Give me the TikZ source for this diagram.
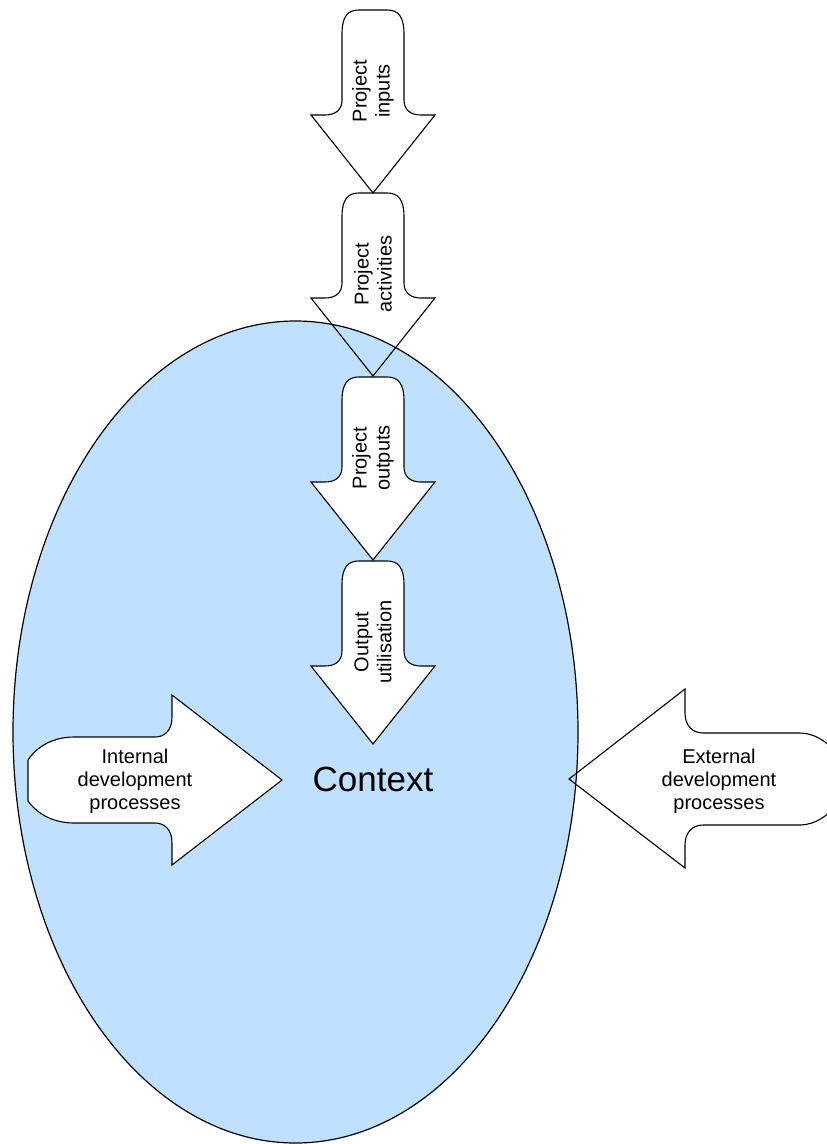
\documentclass[tikz,border=0pt]{standalone}
\usepackage{fontspec}
\setmainfont{Liberation Sans}
\definecolor{ctxblue}{RGB}{191,224,255}
\newcommand{\DArrowPath}[2]{%
  ({#1-31},{#2+24}) .. controls ({#1-31},{#2+6}) and ({#1-25},{#2}) .. ({#1-14},{#2})
  -- ({#1+14},{#2}) .. controls ({#1+25},{#2}) and ({#1+31},{#2+6}) .. ({#1+31},{#2+24})
  -- ({#1+31},{#2+90}) .. controls ({#1+31},{#2+101}) and ({#1+39},{#2+105}) .. ({#1+48},{#2+105})
  -- ({#1+62},{#2+105}) -- ({#1},{#2+183}) -- ({#1-62},{#2+105}) -- ({#1-48},{#2+105})
  .. controls ({#1-39},{#2+105}) and ({#1-31},{#2+101}) .. ({#1-31},{#2+90}) -- cycle}
\begin{document}
\begin{tikzpicture}[x=1pt,y=-1pt,
  arrowline/.style={draw=black,line width=1.1pt,line join=miter},
  vlabel/.style={rotate=90,align=center,font=\fontsize{20}{23}\selectfont,inner sep=0pt},
  hlabel/.style={align=center,font=\fontsize{20}{23}\selectfont,inner sep=0pt}]
\useasboundingbox (0,0) rectangle (827,1144);
\clip (0,0) rectangle (827,1144);
% context ellipse
\draw[fill=ctxblue,line width=1.2pt] (295.5,732) ellipse [x radius=282.5,y radius=411];
\node[font=\fontsize{35}{40}\selectfont,inner sep=0pt] (context) at (373,779) {Context};
% vertical arrows
\draw[arrowline,fill=white] \DArrowPath{373}{10};
\node[vlabel] (inputs) at (373,91) {Project\\inputs};
\draw[arrowline] \DArrowPath{373}{193};
\node[vlabel] (activities) at (373,274) {Project\\activities};
\draw[arrowline,fill=white] \DArrowPath{373}{377};
\node[vlabel] (outputs) at (373,458) {Project\\outputs};
\draw[arrowline,fill=white] \DArrowPath{373}{561};
\node[vlabel] (utilisation) at (373,642) {Output\\utilisation};
% internal development processes (pointing right)
\draw[arrowline,fill=white]
  (28,760) .. controls (38,745) and (55,737) .. (74,737)
  -- (155,737) .. controls (165,737) and (172,730) .. (172,717)
  -- (172,695) -- (282,780) -- (172,865) -- (172,843)
  .. controls (172,830) and (165,823) .. (155,823)
  -- (74,823) .. controls (55,823) and (38,815) .. (28,801) -- cycle;
\node[hlabel] (internal) at (135,781) {Internal\\development\\processes};
% external development processes (pointing left)
\draw[arrowline]
  (800,733) -- (703,733) .. controls (692,733) and (685,725) .. (685,713)
  -- (685,689) -- (569,779) -- (685,868) -- (685,845)
  .. controls (685,833) and (692,825) .. (703,825) -- (800,825)
  .. controls (815,825) and (830,815) .. (840,800) -- (840,758)
  .. controls (830,743) and (815,733) .. (800,733) -- cycle;
\node[hlabel] (external) at (719,781) {External\\development\\processes};
\end{tikzpicture}
\end{document}
